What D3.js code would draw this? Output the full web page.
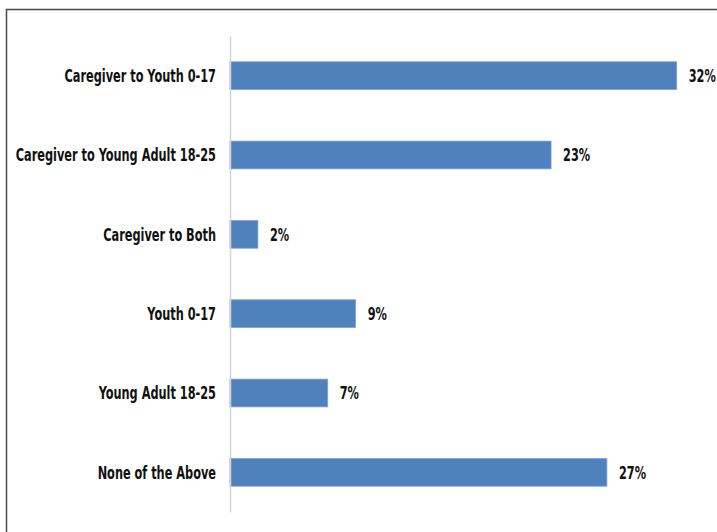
<!DOCTYPE html>
<html>
<head>
<meta charset="utf-8">
<script src="https://cdn.jsdelivr.net/npm/d3@7/dist/d3.min.js"></script>
<style>
  html, body { margin: 0; padding: 0; background: #fff; }
  svg { display: block; }
  .lbl { font-family: "DejaVu Sans Condensed", "DejaVu Sans", sans-serif; font-weight: bold; fill: #111; }
</style>
</head>
<body>
<svg id="chart" width="717" height="532"></svg>
<script>
// Respondent groups and their shares (percent)
const categories = [
  "Caregiver to Youth 0-17",
  "Caregiver to Young Adult 18-25",
  "Caregiver to Both",
  "Youth 0-17",
  "Young Adult 18-25",
  "None of the Above"
];
const values = [32, 23, 2, 9, 7, 27];
const valueLabels = ["32%", "23%", "2%", "9%", "7%", "27%"];

const W = 717, H = 532;
const plot = { left: 230, top: 36, bottom: 512 };
const fontSize = 18;
const squeeze = 0.7;   // horizontal compression for a narrow look

const svg = d3.select("#chart");

// outer frame
svg.append("rect")
  .attr("x", 6.5).attr("y", 9.5)
  .attr("width", W + 10).attr("height", H + 10)
  .attr("fill", "none").attr("stroke", "#474747").attr("stroke-width", 1.5);

const x = d3.scaleLinear().domain([0, 32]).range([plot.left, plot.left + 446.7]);
const y = d3.scaleBand().domain(categories).range([plot.top, plot.bottom])
  .paddingInner(0.65).paddingOuter(0.325);

// bars
svg.append("g").selectAll("rect")
  .data(categories)
  .join("rect")
  .attr("x", x(0))
  .attr("y", d => y(d))
  .attr("width", (d, i) => x(values[i]) - x(0))
  .attr("height", y.bandwidth())
  .attr("fill", "#4f81bd")
  .attr("stroke", "#7ea3d2")
  .attr("stroke-width", 0.8);

// category axis (line only, no ticks)
const axis = d3.axisLeft(y).tickSize(0).tickPadding(0).tickFormat("");
const axG = svg.append("g").attr("transform", `translate(${plot.left},0)`).call(axis);
axG.select(".domain").attr("stroke", "#d4d4d4").attr("stroke-width", 1.5);

// category labels
svg.append("g").selectAll("text")
  .data(categories)
  .join("text")
  .attr("class", "lbl")
  .attr("transform", d => `translate(${plot.left - 14},${y(d) + y.bandwidth() / 2}) scale(${squeeze},1)`)
  .attr("text-anchor", "end")
  .attr("dy", "0.35em")
  .style("font-size", fontSize + "px")
  .text(d => d);

// value labels
svg.append("g").selectAll("text")
  .data(categories)
  .join("text")
  .attr("class", "lbl")
  .attr("transform", (d, i) => `translate(${x(values[i]) + 12},${y(d) + y.bandwidth() / 2}) scale(${squeeze},1)`)
  .attr("dy", "0.35em")
  .style("font-size", fontSize + "px")
  .text((d, i) => valueLabels[i]);
</script>
</body>
</html>
